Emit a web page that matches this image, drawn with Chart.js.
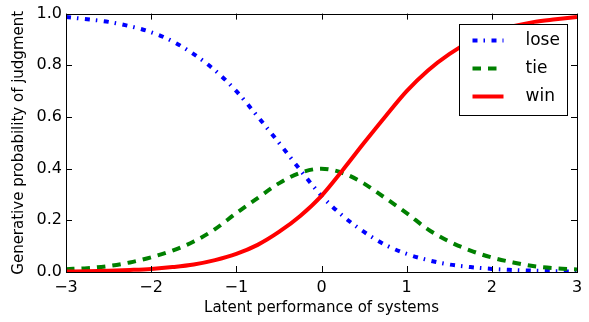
<!DOCTYPE html>
<html>
<head>
<meta charset="utf-8">
<script src="https://cdn.jsdelivr.net/npm/chart.js@4"></script>
<style>
  html, body { margin: 0; padding: 0; background: #fff; }
</style>
</head>
<body>
<canvas id="chart" width="589" height="322"></canvas>
<script>
// latent performance (x) and probability of each judgment
const xs   = [-3, -2.75, -2.5, -2.25, -2, -1.75, -1.5, -1.25, -1, -0.75, -0.5, -0.25, 0,
              0.25, 0.5, 0.75, 1, 1.25, 1.5, 1.75, 2, 2.25, 2.5, 2.75, 3];
const lose = [0.987, 0.978, 0.968, 0.951, 0.928, 0.893, 0.843, 0.780, 0.700, 0.602, 0.500, 0.395, 0.295,
              0.217, 0.155, 0.105, 0.070, 0.046, 0.029, 0.019, 0.012, 0.008, 0.005, 0.003, 0.002];
const tie  = [0.011, 0.015, 0.023, 0.037, 0.057, 0.083, 0.118, 0.166, 0.228, 0.286, 0.343, 0.384, 0.400,
              0.383, 0.342, 0.286, 0.228, 0.165, 0.118, 0.083, 0.056, 0.037, 0.022, 0.014, 0.010];
const win  = [0.002, 0.003, 0.005, 0.008, 0.012, 0.019, 0.029, 0.046, 0.070, 0.105, 0.155, 0.217, 0.295,
              0.395, 0.500, 0.602, 0.700, 0.780, 0.843, 0.893, 0.928, 0.951, 0.968, 0.978, 0.987];
const xTicks = [-3, -2, -1, 0, 1, 2, 3];
const yTicks = [0, 0.2, 0.4, 0.6, 0.8, 1.0];

Chart.defaults.font.family = "'DejaVu Sans', sans-serif";
Chart.defaults.color = '#000';

function pts(ys) {
    return xs.map((x, i) => ({ x: x, y: ys[i] }));
}

// box round the plot, inward ticks on all four sides, and the legend
const frame = {
    id: 'frame',
    afterDatasetsDraw(chart) {
        const ctx = chart.ctx;
        const a = chart.chartArea;
        const sx = chart.scales.x, sy = chart.scales.y;
        const tl = 6;
        ctx.save();
        ctx.strokeStyle = '#000';
        ctx.lineWidth = 1;
        ctx.beginPath();
        xTicks.forEach(v => {
            const px = Math.round(sx.getPixelForValue(v)) + 0.5;
            ctx.moveTo(px, a.bottom); ctx.lineTo(px, a.bottom - tl);
            ctx.moveTo(px, a.top); ctx.lineTo(px, a.top + tl);
        });
        yTicks.forEach(v => {
            const py = Math.round(sy.getPixelForValue(v)) + 0.5;
            ctx.moveTo(a.left, py); ctx.lineTo(a.left + tl, py);
            ctx.moveTo(a.right, py); ctx.lineTo(a.right - tl, py);
        });
        ctx.stroke();
        ctx.strokeRect(Math.round(a.left) + 0.5, Math.round(a.top) + 0.5,
                       Math.round(a.right - a.left), Math.round(a.bottom - a.top));

        // legend
        const bw = 108, bh = 91;
        const bx = Math.round(a.right - 10 - bw) + 0.5;
        const by = Math.round(a.top + 10) + 0.5;
        ctx.fillStyle = '#fff';
        ctx.fillRect(bx, by, bw, bh);
        ctx.strokeRect(bx, by, bw, bh);
        ctx.font = "17px 'DejaVu Sans', sans-serif";
        ctx.textBaseline = 'middle';
        ctx.textAlign = 'left';
        chart.data.datasets.forEach((ds, i) => {
            const cy = by + 16 + i * 28;
            ctx.beginPath();
            ctx.strokeStyle = ds.borderColor;
            ctx.lineWidth = ds.borderWidth;
            ctx.lineCap = 'butt';
            ctx.setLineDash(ds.borderDash || []);
            ctx.moveTo(bx + 13, cy);
            ctx.lineTo(bx + 44, cy);
            ctx.stroke();
            ctx.setLineDash([]);
            ctx.fillStyle = '#000';
            ctx.fillText(ds.label, bx + 66, cy);
        });
        ctx.restore();
    }
};

const ctx = document.getElementById('chart').getContext('2d');
new Chart(ctx, {
    type: 'line',
    data: {
        datasets: [
            {
                label: 'lose',
                data: pts(lose),
                borderColor: '#0000ff',
                borderWidth: 4,
                borderDash: [5, 6, 1.5, 6.5],
                order: 3
            },
            {
                label: 'tie',
                data: pts(tie),
                borderColor: '#008000',
                borderWidth: 4,
                borderDash: [8.5, 7],
                order: 2
            },
            {
                label: 'win',
                data: pts(win),
                borderColor: '#ff0000',
                borderWidth: 4,
                order: 1
            }
        ]
    },
    options: {
        responsive: false,
        animation: false,
        layout: { padding: { top: 8, right: 12, left: 0, bottom: 0 } },
        elements: {
            point: { radius: 0 },
            line: { fill: false, cubicInterpolationMode: 'monotone' }
        },
        plugins: {
            legend: { display: false },
            tooltip: { enabled: false }
        },
        scales: {
            x: {
                type: 'linear',
                min: -3,
                max: 3,
                afterFit: s => { s.height = 50; },
                afterBuildTicks: s => { s.ticks = xTicks.map(v => ({ value: v })); },
                grid: { display: false, drawTicks: false },
                border: { display: false },
                ticks: {
                    padding: 6,
                    font: { size: 16 },
                    maxRotation: 0,
                    callback: v => (v < 0 ? '\u2212' + Math.abs(v) : String(v))
                },
                title: {
                    display: true,
                    text: 'Latent performance of systems',
                    font: { size: 15 },
                    padding: { top: 0, bottom: 5 }
                }
            },
            y: {
                min: 0,
                max: 1,
                afterFit: s => { s.width = 66; },
                afterBuildTicks: s => { s.ticks = yTicks.map(v => ({ value: v })); },
                grid: { display: false, drawTicks: false },
                border: { display: false },
                ticks: {
                    padding: 4,
                    font: { size: 16 },
                    callback: v => Number(v).toFixed(1)
                },
                title: {
                    display: true,
                    text: 'Generative probability of judgment',
                    font: { size: 15 },
                    padding: { top: 10, bottom: 0 }
                }
            }
        }
    },
    plugins: [frame]
});
</script>
</body>
</html>
